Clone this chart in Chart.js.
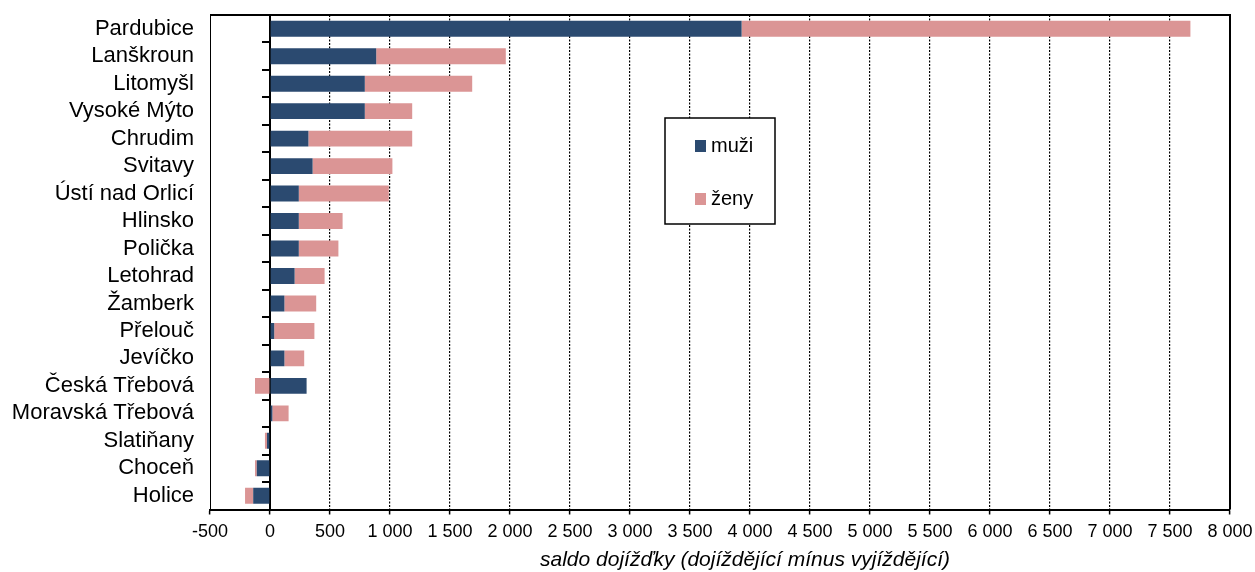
<!DOCTYPE html>
<html>
<head>
<meta charset="utf-8">
<script src="https://cdn.jsdelivr.net/npm/chart.js@4"></script>
<style>
  body { margin: 0; background: #fff; }
  #wrap { width: 1255px; height: 572px; position: relative; }
</style>
</head>
<body>
<div id="wrap"><canvas id="saldoChart"></canvas></div>
<script>
// saldo dojížďky podle obcí
const mesta = ['Pardubice', 'Lanškroun', 'Litomyšl', 'Vysoké Mýto', 'Chrudim', 'Svitavy',
  'Ústí nad Orlicí', 'Hlinsko', 'Polička', 'Letohrad', 'Žamberk', 'Přelouč', 'Jevíčko',
  'Česká Třebová', 'Moravská Třebová', 'Slatiňany', 'Choceň', 'Holice'];
const muzi = [3930, 885, 790, 790, 320, 355, 240, 240, 240, 205, 120, 35, 120, 305, 20, -25, -110, -140];
const zeny = [3740, 1080, 895, 395, 865, 665, 750, 365, 330, 250, 265, 335, 165, -125, 135, -17, -15, -68];
const xMin = -500, xMax = 8000, xStep = 500;
const osaNazev = 'saldo dojížďky (dojíždějící mínus vyjíždějící)';

const fmt = v => String(v).replace(/\B(?=(\d{3})+(?!\d))/g, ' ');

// ramecek grafu (horni a prava hrana)
const frame = {
  id: 'frame',
  afterDraw(chart) {
    const { ctx, chartArea: a } = chart;
    ctx.save();
    ctx.strokeStyle = '#000';
    ctx.lineWidth = 2;
    ctx.beginPath();
    ctx.moveTo(a.left, a.top);
    ctx.lineTo(a.right, a.top);
    ctx.lineTo(a.right, a.bottom);
    ctx.stroke();
    ctx.restore();
  }
};

// legenda v ramecku uvnitr grafu
const boxLegend = {
  id: 'boxLegend',
  afterDraw(chart) {
    const ctx = chart.ctx;
    ctx.save();
    ctx.strokeStyle = '#000';
    ctx.lineWidth = 1.5;
    ctx.fillStyle = '#fff';
    ctx.fillRect(665, 118, 110, 106);
    ctx.strokeRect(665, 118, 110, 106);
    ctx.font = '20px "Liberation Sans", Arial, sans-serif';
    ctx.textBaseline = 'middle';
    chart.data.datasets.forEach((ds, i) => {
      const y = 146 + i * 53;
      ctx.fillStyle = ds.backgroundColor;
      ctx.fillRect(695, y - 6, 11, 12);
      ctx.fillStyle = '#000';
      ctx.fillText(ds.label, 711, y);
    });
    ctx.restore();
  }
};

// nazev osy x
const axisTitle = {
  id: 'axisTitle',
  afterDraw(chart) {
    const ctx = chart.ctx;
    ctx.save();
    ctx.font = 'italic 21px "Liberation Sans", Arial, sans-serif';
    ctx.fillStyle = '#000';
    ctx.textAlign = 'center';
    ctx.textBaseline = 'middle';
    ctx.fillText(osaNazev, 745, 560);
    ctx.restore();
  }
};

Chart.defaults.font.family = '"Liberation Sans", Arial, sans-serif';
Chart.defaults.color = '#000';

new Chart(document.getElementById('saldoChart').getContext('2d'), {
  type: 'bar',
  data: {
    labels: mesta,
    datasets: [
      { label: 'muži', data: muzi, backgroundColor: '#2b4a70' },
      { label: 'ženy', data: zeny, backgroundColor: '#db9595' }
    ]
  },
  options: {
    indexAxis: 'y',
    responsive: true,
    maintainAspectRatio: false,
    animation: false,
    layout: { padding: { top: 15, right: 25, left: 0, bottom: 0 } },
    datasets: { bar: { categoryPercentage: 0.58, barPercentage: 1 } },
    plugins: { legend: { display: false }, tooltip: { enabled: false } },
    scales: {
      x: {
        type: 'linear',
        stacked: true,
        min: xMin,
        max: xMax,
        ticks: { stepSize: xStep, font: { size: 18 }, padding: 7, callback: v => fmt(v) },
        grid: {
          color: c => (c.tick && (c.tick.value === xMin || c.tick.value === 0 || c.tick.value === xMax)) ? 'rgba(0,0,0,0)' : '#000',
          lineWidth: 1.2,
          tickLength: 5,
          tickColor: '#000',
          tickWidth: 1.5
        },
        border: { display: true, color: '#000', width: 2, dash: [2, 1.5] },
        afterFit: s => { s.height = 62.5; s.paddingLeft = 0; s.paddingRight = 0; }
      },
      y: {
        stacked: true,
        ticks: { font: { size: 22 }, padding: 16, autoSkip: false },
        grid: { display: false, drawTicks: false },
        border: { display: true, color: '#000', width: 1 },
        afterFit: s => { s.width = 210; s.paddingTop = 0; s.paddingBottom = 0; }
      },
      y2: {
        type: 'category',
        position: { x: 0 },
        offset: true,
        z: 1,
        ticks: { display: false, autoSkip: false },
        grid: { offset: true, drawOnChartArea: false, tickLength: 7, color: '#000', lineWidth: 2 },
        border: { display: true, color: '#000', width: 2 },
        afterFit: s => { s.paddingTop = 0; s.paddingBottom = 0; }
      }
    }
  },
  plugins: [frame, boxLegend, axisTitle]
});
</script>
</body>
</html>
